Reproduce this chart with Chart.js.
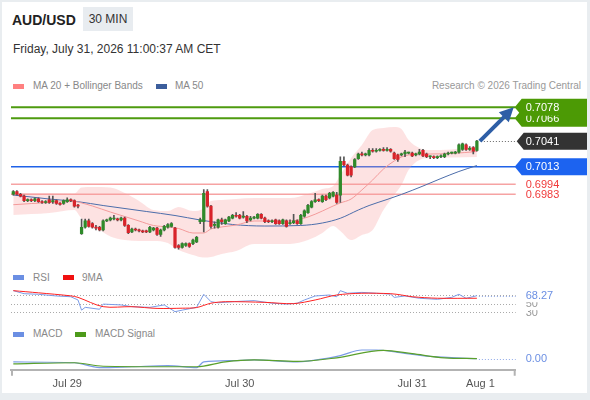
<!DOCTYPE html>
<html>
<head>
<meta charset="utf-8">
<script src="https://cdn.jsdelivr.net/npm/chart.js@4.4.1/dist/chart.umd.min.js"></script>
<style>
  html, body { margin: 0; padding: 0; }
  body { width: 590px; height: 400px; background: #e9edf0; position: relative; overflow: hidden;
         font-family: "Liberation Sans", Arial, sans-serif; }
  #card { position: absolute; left: 2px; top: 2px; width: 585px; height: 391px; background: #fff; }
  canvas { position: absolute; left: 0; top: 0; }
  .t { position: absolute; white-space: nowrap; }
  .lg { position: absolute; font-size: 10px; line-height: 12px; color: #888; white-space: nowrap; }
  .sw { position: absolute; width: 11px; height: 5px; }
</style>
</head>
<body>
<div id="card"></div>
<div class="t" style="left:12px;top:12px;font-weight:bold;font-size:14px;line-height:16px;color:#222;">AUD/USD</div>
<div class="t" style="left:83px;top:7px;width:50px;height:24px;background:#e8ecf0;text-align:center;font-size:12px;line-height:24px;color:#333;">30 MIN</div>
<div class="t" style="left:13px;top:42px;font-size:12px;line-height:14px;color:#333;">Friday, July 31, 2026 11:00:37 AM CET</div>

<div class="sw" style="left:13px;top:84px;background:#ff8080;"></div>
<div class="lg" style="left:33px;top:80px;">MA 20 + Bollinger Bands</div>
<div class="sw" style="left:156px;top:84px;background:#3c5e9c;"></div>
<div class="lg" style="left:175px;top:80px;">MA 50</div>
<div class="lg" style="right:9px;top:80px;color:#999;">Research © 2026 Trading Central</div>

<div class="sw" style="left:13px;top:275px;background:#6b8fe3;"></div>
<div class="lg" style="left:33px;top:272px;">RSI</div>
<div class="sw" style="left:63px;top:275px;background:#f01010;"></div>
<div class="lg" style="left:82px;top:272px;">9MA</div>

<div class="sw" style="left:13px;top:332px;background:#6b8fe3;"></div>
<div class="lg" style="left:33px;top:328px;">MACD</div>
<div class="sw" style="left:75px;top:332px;background:#4d9a1a;"></div>
<div class="lg" style="left:95px;top:328px;">MACD Signal</div>

<canvas id="price" width="590" height="400"></canvas>
<canvas id="rsi" width="590" height="400"></canvas>
<canvas id="macd" width="590" height="400"></canvas>

<script>
// x axis: candle index, one per 30 minutes
const tickIndex = [15, 63, 111, 130];
const tickLabels = ["Jul 29", "Jul 30", "Jul 31", "Aug 1"];

const opens = [
  0.6983, 0.6986, 0.6983, 0.6981, 0.6976, 0.6977, 0.6976, 0.6978, 0.6975, 0.6974,
  0.6977, 0.6975, 0.6976, 0.6973, 0.6973, 0.6975, 0.6977, 0.6976, 0.6971, 0.6940,
  0.6947, 0.6954, 0.6951, 0.6947, 0.6947, 0.6944, 0.6954, 0.6955, 0.6956, 0.6956,
  0.6955, 0.6957, 0.6949, 0.6942, 0.6945, 0.6944, 0.6943, 0.6943, 0.6942, 0.6944,
  0.6946, 0.6939, 0.6944, 0.6947, 0.6948, 0.6946, 0.6927, 0.6925, 0.6927, 0.6929,
  0.6929, 0.6931, 0.6953, 0.6953, 0.6986, 0.6970, 0.6949, 0.6947, 0.6955, 0.6951,
  0.6954, 0.6957, 0.6960, 0.6960, 0.6958, 0.6959, 0.6955, 0.6957, 0.6957, 0.6961,
  0.6957, 0.6954, 0.6953, 0.6955, 0.6954, 0.6951, 0.6954, 0.6951, 0.6952, 0.6954,
  0.6951, 0.6959, 0.6963, 0.6969, 0.6975, 0.6977, 0.6975, 0.6981, 0.6979, 0.6981,
  0.6982, 0.6982, 0.7019, 0.7015, 0.7013, 0.7013, 0.7022, 0.7027, 0.7026, 0.7026,
  0.7031, 0.7030, 0.7031, 0.7032, 0.7031, 0.7032, 0.7028, 0.7026, 0.7026, 0.7027,
  0.7028, 0.7028, 0.7026, 0.7027, 0.7031, 0.7027, 0.7024, 0.7024, 0.7023, 0.7024,
  0.7024, 0.7027, 0.7028, 0.7028, 0.7029, 0.7032, 0.7037, 0.7032, 0.7034, 0.7031
];
const highs = [
  0.6987, 0.6987, 0.6984, 0.6982, 0.6978, 0.6978, 0.6979, 0.6979, 0.6976, 0.6976,
  0.6981, 0.6981, 0.6977, 0.6974, 0.6977, 0.6979, 0.6978, 0.6977, 0.6972, 0.6956,
  0.6956, 0.6956, 0.6952, 0.6949, 0.6948, 0.6955, 0.6956, 0.6958, 0.6960, 0.6957,
  0.6958, 0.6958, 0.6950, 0.6946, 0.6946, 0.6945, 0.6944, 0.6944, 0.6948, 0.6947,
  0.6947, 0.6945, 0.6949, 0.6951, 0.6952, 0.6947, 0.6928, 0.6930, 0.6930, 0.6930,
  0.6934, 0.6937, 0.6957, 0.6988, 0.6988, 0.6971, 0.6953, 0.6956, 0.6957, 0.6956,
  0.6959, 0.6961, 0.6963, 0.6961, 0.6964, 0.6960, 0.6959, 0.6959, 0.6962, 0.6962,
  0.6958, 0.6955, 0.6955, 0.6956, 0.6955, 0.6956, 0.6955, 0.6955, 0.6961, 0.6955,
  0.6961, 0.6966, 0.6972, 0.6976, 0.6984, 0.6978, 0.6982, 0.6982, 0.6985, 0.6986,
  0.6985, 0.7024, 0.7024, 0.7016, 0.7014, 0.7022, 0.7028, 0.7029, 0.7028, 0.7033,
  0.7033, 0.7033, 0.7033, 0.7034, 0.7034, 0.7033, 0.7029, 0.7027, 0.7028, 0.7031,
  0.7029, 0.7029, 0.7028, 0.7032, 0.7032, 0.7028, 0.7025, 0.7025, 0.7025, 0.7026,
  0.7028, 0.7029, 0.7029, 0.7030, 0.7038, 0.7039, 0.7038, 0.7035, 0.7035, 0.7042
];
const lows = [
  0.6982, 0.6982, 0.6980, 0.6975, 0.6975, 0.6975, 0.6975, 0.6974, 0.6973, 0.6973,
  0.6973, 0.6973, 0.6972, 0.6971, 0.6972, 0.6974, 0.6975, 0.6969, 0.6968, 0.6939,
  0.6946, 0.6947, 0.6946, 0.6944, 0.6943, 0.6943, 0.6953, 0.6954, 0.6955, 0.6954,
  0.6954, 0.6948, 0.6940, 0.6941, 0.6943, 0.6942, 0.6941, 0.6941, 0.6941, 0.6943,
  0.6938, 0.6937, 0.6943, 0.6946, 0.6947, 0.6924, 0.6923, 0.6924, 0.6926, 0.6925,
  0.6928, 0.6930, 0.6951, 0.6942, 0.6969, 0.6946, 0.6946, 0.6946, 0.6950, 0.6950,
  0.6953, 0.6956, 0.6958, 0.6956, 0.6957, 0.6952, 0.6954, 0.6956, 0.6956, 0.6956,
  0.6952, 0.6952, 0.6952, 0.6950, 0.6950, 0.6950, 0.6947, 0.6950, 0.6951, 0.6950,
  0.6950, 0.6958, 0.6962, 0.6968, 0.6974, 0.6975, 0.6974, 0.6976, 0.6978, 0.6980,
  0.6973, 0.6974, 0.7014, 0.7003, 0.7002, 0.7012, 0.7021, 0.7025, 0.7025, 0.7025,
  0.7029, 0.7029, 0.7030, 0.7030, 0.7030, 0.7029, 0.7021, 0.7019, 0.7025, 0.7024,
  0.7027, 0.7024, 0.7025, 0.7026, 0.7024, 0.7023, 0.7022, 0.7022, 0.7022, 0.7023,
  0.7023, 0.7026, 0.7027, 0.7027, 0.7028, 0.7031, 0.7031, 0.7031, 0.7027, 0.7030
];
const closes = [
  0.6986, 0.6983, 0.6981, 0.6976, 0.6977, 0.6976, 0.6978, 0.6975, 0.6974, 0.6975,
  0.6974, 0.6976, 0.6973, 0.6972, 0.6976, 0.6977, 0.6976, 0.6970, 0.6970, 0.6947,
  0.6954, 0.6948, 0.6947, 0.6946, 0.6944, 0.6954, 0.6955, 0.6957, 0.6956, 0.6955,
  0.6957, 0.6949, 0.6941, 0.6945, 0.6944, 0.6943, 0.6942, 0.6942, 0.6947, 0.6946,
  0.6939, 0.6944, 0.6948, 0.6950, 0.6951, 0.6925, 0.6925, 0.6929, 0.6929, 0.6926,
  0.6933, 0.6936, 0.6955, 0.6984, 0.6970, 0.6948, 0.6950, 0.6955, 0.6953, 0.6955,
  0.6958, 0.6960, 0.6959, 0.6957, 0.6959, 0.6954, 0.6957, 0.6958, 0.6961, 0.6957,
  0.6953, 0.6953, 0.6954, 0.6951, 0.6951, 0.6955, 0.6948, 0.6952, 0.6954, 0.6951,
  0.6960, 0.6965, 0.6971, 0.6975, 0.6977, 0.6976, 0.6981, 0.6977, 0.6984, 0.6985,
  0.6974, 0.7019, 0.7015, 0.7004, 0.7004, 0.7021, 0.7027, 0.7026, 0.7027, 0.7031,
  0.7030, 0.7031, 0.7032, 0.7031, 0.7032, 0.7030, 0.7022, 0.7021, 0.7027, 0.7029,
  0.7028, 0.7025, 0.7027, 0.7029, 0.7025, 0.7024, 0.7024, 0.7023, 0.7024, 0.7025,
  0.7027, 0.7028, 0.7028, 0.7029, 0.7037, 0.7038, 0.7032, 0.7033, 0.7030, 0.7041
];

// MA 20 + Bollinger bands, read at these candle indexes
const bandIndex = [0, 10, 17, 19, 22, 27, 31, 35, 39, 43, 46, 50, 53, 55, 58, 62, 67,
  72, 77, 82, 86, 89, 91, 94, 97, 100, 103, 106, 108, 110, 113, 116, 122, 129];
const ma20 = [0.69716, 0.69740, 0.69751, 0.69735, 0.69702, 0.69636, 0.69587, 0.69538,
  0.69489, 0.69473, 0.69456, 0.69407, 0.69407, 0.69451, 0.69473, 0.69494, 0.69538,
  0.69538, 0.69538, 0.69582, 0.69647, 0.69702, 0.69735, 0.69778, 0.69877, 0.69986,
  0.70106, 0.70194, 0.70237, 0.70259, 0.70270, 0.70270, 0.70276, 0.70297];
const bandUpper = [0.69844, 0.69844, 0.69839, 0.69904, 0.69910, 0.69904, 0.69844, 0.69757,
  0.69658, 0.69647, 0.69691, 0.69647, 0.69675, 0.69757, 0.69768, 0.69778, 0.69789,
  0.69789, 0.69789, 0.69833, 0.69888, 0.69920, 0.70041, 0.70226, 0.70368, 0.70532,
  0.70554, 0.70565, 0.70543, 0.70423, 0.70336, 0.70314, 0.70319, 0.70357];
const bandLower = [0.69604, 0.69625, 0.69658, 0.69565, 0.69494, 0.69369, 0.69330, 0.69320,
  0.69320, 0.69298, 0.69221, 0.69167, 0.69139, 0.69145, 0.69178, 0.69210, 0.69287,
  0.69287, 0.69287, 0.69330, 0.69407, 0.69483, 0.69429, 0.69330, 0.69385, 0.69440,
  0.69658, 0.69822, 0.69931, 0.70095, 0.70205, 0.70226, 0.70232, 0.70237];

const ma50Index = [0, 10, 18, 25, 37, 45, 52, 61, 70, 80, 86, 91, 96, 99, 104, 108, 114, 119, 124, 129];
const ma50 = [0.69822, 0.69778, 0.69749, 0.69707, 0.69642, 0.69598, 0.69549, 0.69500,
  0.69483, 0.69489, 0.69516, 0.69568, 0.69658, 0.69707, 0.69773, 0.69828, 0.69920,
  0.70002, 0.70079, 0.70144];

// support / resistance levels (green, green, blue, red, red)
const levels = [0.7078, 0.7066, 0.7013, 0.6994, 0.6983];

const rsiIndex = [0, 3, 7, 12, 16, 18, 19, 20, 24, 25, 30, 33, 38, 42, 45, 47, 51, 53, 55,
  57, 61, 67, 72, 76, 79, 81, 84, 88, 90, 91, 93, 97, 101, 105, 106, 109, 113, 118,
  122, 124, 126, 129];
const rsiValues = [80, 73, 71.6, 67.7, 66, 58.5, 35, 41.5, 37, 49, 47, 43, 41.5, 47, 31.5,
  35, 41.5, 71.6, 54.5, 52, 54.5, 57, 51, 49, 51, 58.5, 67.7, 70, 66, 80, 74, 76, 74,
  72, 64.5, 67.7, 62.4, 60, 64.5, 71.6, 62.4, 68.27];
const rsiMaIndex = [0, 7, 16, 18, 25, 33, 40, 47, 51, 55, 59, 70, 78, 84, 90, 97, 105, 108, 111, 118, 129];
const rsiMa = [80, 75, 68, 64.5, 43, 43, 39, 39.5, 41, 51, 54.5, 53, 50, 58.5, 70, 74, 73, 70, 66, 62.5, 62.5];
const rsiGuides = [70, 50, 30];

const macdIndex = [0, 17, 24, 33, 43, 51, 53, 61, 67, 79, 88, 91, 97, 101, 107, 116, 129];
const macdValues = [0.00007, 0.00002, -0.00027, -0.00022, -0.00015, -0.00027, 0.00007,
  0.00015, 0.00019, 0.00007, 0.00032, 0.00045, 0.00079, 0.00079, 0.00065, 0.0004, 0.00027];
const signalIndex = [0, 17, 25, 43, 51, 59, 67, 79, 90, 103, 111, 120, 129];
const signalValues = [-0.00005, 0.00002, -0.00019, -0.00022, -0.00022, 0.00007, 0.00019,
  0.0001, 0.00032, 0.00077, 0.00057, 0.00032, 0.00027];

// ---- layout
const X_MIN = -0.64, X_MAX = 139.8;
const PAD_L = 11, PAD_R = 74.3;
const FONT = '"Liberation Sans", Arial, sans-serif';
Chart.defaults.font.family = FONT;

function pts(idx, vals) {
  return idx.map((x, i) => ({ x: x, y: vals[i] }));
}

function xScale(show) {
  return {
    type: "linear",
    min: X_MIN,
    max: X_MAX,
    offset: false,
    display: show,
    grid: { display: false, drawTicks: false },
    border: { display: show, color: "#b3b3b3", width: 2 },
    afterBuildTicks: function (s) {
      s.ticks = tickIndex.map(function (v) { return { value: v }; });
    },
    ticks: {
      autoSkip: false,
      maxRotation: 0,
      color: "#555",
      font: { size: 11 },
      padding: 7.5,
      callback: function (v) {
        const k = tickIndex.indexOf(v);
        return k < 0 ? "" : tickLabels[k];
      },
    },
  };
}

function baseOptions(top, bottom, yMin, yMax, showX) {
  return {
    responsive: false,
    animation: false,
    events: [],
    layout: { padding: { left: PAD_L, right: PAD_R, top: top, bottom: bottom } },
    plugins: { legend: { display: false }, tooltip: { enabled: false } },
    scales: {
      x: xScale(showX),
      y: { display: false, min: yMin, max: yMax },
    },
  };
}

function dotted(ctx, x1, x2, y, color) {
  ctx.save();
  ctx.strokeStyle = color;
  ctx.lineWidth = 1;
  ctx.setLineDash([1, 2]);
  ctx.beginPath();
  ctx.moveTo(x1, Math.round(y) + 0.5);
  ctx.lineTo(x2, Math.round(y) + 0.5);
  ctx.stroke();
  ctx.restore();
}

function tag(ctx, x, y, color) {
  const h = 17;
  ctx.fillStyle = color;
  ctx.beginPath();
  ctx.moveTo(x, y);
  ctx.lineTo(x + 7, y - h / 2);
  ctx.lineTo(587, y - h / 2);
  ctx.lineTo(587, y + h / 2);
  ctx.lineTo(x + 7, y + h / 2);
  ctx.closePath();
  ctx.fill();
}

// ---- price panel marks
const levelColors = ["#4e9b0f", "#4e9b0f", "#1f62e8", "#f6a3a3", "#f6a3a3"];
const levelTags = ["#4c9a05", "#4c9a05", "#1c63f0", null, null];
const priceMarks = {
  id: "priceMarks",
  beforeDatasetsDraw(chart) {
    const { ctx, chartArea: a, scales: { y } } = chart;
    ctx.save();
    levels.forEach(function (v, i) {
      ctx.strokeStyle = levelColors[i];
      ctx.lineWidth = i < 2 ? 2 : 1.5;
      const py = y.getPixelForValue(v);
      ctx.beginPath();
      ctx.moveTo(a.left, py);
      ctx.lineTo(a.right, py);
      ctx.stroke();
    });
    ctx.restore();
  },
  afterDatasetsDraw(chart) {
    const { ctx, chartArea: a, scales: { x, y } } = chart;
    const last = closes.length - 1;
    const lastY = y.getPixelForValue(closes[last]);
    ctx.save();
    dotted(ctx, x.getPixelForValue(last) + 4, a.right, lastY, "#666");

    // arrow towards the first target
    const x0 = x.getPixelForValue(last) + 3, y0 = lastY;
    const x1 = a.right - 2, y1 = y.getPixelForValue(levels[0]);
    const ang = Math.atan2(y1 - y0, x1 - x0);
    const head = 14;
    ctx.strokeStyle = "#2e5ea6";
    ctx.fillStyle = "#2e5ea6";
    ctx.lineWidth = 4;
    ctx.beginPath();
    ctx.moveTo(x0, y0);
    ctx.lineTo(x1 - Math.cos(ang) * (head - 2), y1 - Math.sin(ang) * (head - 2));
    ctx.stroke();
    ctx.beginPath();
    ctx.moveTo(x1, y1);
    ctx.lineTo(x1 - Math.cos(ang) * head + Math.sin(ang) * 7, y1 - Math.sin(ang) * head - Math.cos(ang) * 7);
    ctx.lineTo(x1 - Math.cos(ang) * head - Math.sin(ang) * 7, y1 - Math.sin(ang) * head + Math.cos(ang) * 7);
    ctx.closePath();
    ctx.fill();

    ctx.font = "11px " + FONT;
    ctx.textBaseline = "middle";
    const tx = a.right + 10;
    // draw bottom labels first so upper tags overlap them
    for (let i = levels.length - 1; i >= 0; i--) {
      const py = y.getPixelForValue(levels[i]);
      if (levelTags[i]) {
        tag(ctx, a.right - 1, py, levelTags[i]);
        ctx.fillStyle = "#fff";
      } else {
        ctx.fillStyle = "#f03a3a";
      }
      ctx.fillText(levels[i].toFixed(4), tx, py + 0.5);
      if (i === 2) {
        tag(ctx, a.right + 1, lastY, "#333");
        ctx.fillStyle = "#fff";
        ctx.fillText(closes[last].toFixed(4), tx, lastY + 0.5);
      }
    }
    ctx.restore();
  },
};

const bodyColors = closes.map(function (c, i) { return c >= opens[i] ? "#2f8a2a" : "#d8232a"; });

new Chart(document.getElementById("price"), {
  type: "bar",
  data: {
    datasets: [
      {
        type: "bar",
        data: closes.map(function (c, i) { return { x: i, y: [opens[i], c] }; }),
        backgroundColor: bodyColors,
        barThickness: 2.6,
        minBarLength: 1,
        grouped: false,
      },
      {
        type: "bar",
        data: closes.map(function (c, i) { return { x: i, y: [lows[i], highs[i]] }; }),
        backgroundColor: "#555",
        barThickness: 1,
        grouped: false,
      },
      {
        type: "line",
        data: pts(bandIndex, ma20),
        borderColor: "#f39a9a",
        borderWidth: 1,
        pointRadius: 0,
        cubicInterpolationMode: "monotone",
      },
      {
        type: "line",
        data: pts(ma50Index, ma50),
        borderColor: "#4c6daa",
        borderWidth: 1,
        pointRadius: 0,
        cubicInterpolationMode: "monotone",
      },
      {
        type: "line",
        data: pts(bandIndex, bandUpper),
        borderColor: "transparent",
        borderWidth: 0,
        pointRadius: 0,
        fill: "+1",
        backgroundColor: "rgba(248,160,160,0.3)",
        cubicInterpolationMode: "monotone",
      },
      {
        type: "line",
        data: pts(bandIndex, bandLower),
        borderColor: "transparent",
        borderWidth: 0,
        pointRadius: 0,
        cubicInterpolationMode: "monotone",
      },
    ],
  },
  options: baseOptions(100, 138, 0.6909, 0.7086, false),
  plugins: [priceMarks],
});

// ---- RSI panel
const rsiMarks = {
  id: "rsiMarks",
  beforeDatasetsDraw(chart) {
    const { ctx, chartArea: a, scales: { y } } = chart;
    rsiGuides.forEach(function (v) { dotted(ctx, a.left, a.right, y.getPixelForValue(v), "#aaa"); });
  },
  afterDatasetsDraw(chart) {
    const { ctx, chartArea: a, scales: { x, y } } = chart;
    const n = rsiValues.length - 1;
    const lastY = y.getPixelForValue(rsiValues[n]);
    dotted(ctx, x.getPixelForValue(rsiIndex[n]) + 2, a.right, lastY, "#8fa8e8");
    ctx.save();
    ctx.font = "11px " + FONT;
    ctx.textBaseline = "middle";
    const labels = [[30, "#999"], [50, "#999"], [rsiValues[n], "#6b8fe3"]];
    labels.forEach(function (l, k) {
      const py = y.getPixelForValue(l[0]);
      ctx.fillStyle = "#fff";
      ctx.fillRect(a.right + 6, py - 6.5, 40, 13);
      ctx.fillStyle = l[1];
      ctx.fillText(k < 2 ? String(l[0]) : l[0].toFixed(2), a.right + 10, py + 0.5);
    });
    ctx.restore();
  },
};

new Chart(document.getElementById("rsi"), {
  type: "line",
  data: {
    datasets: [
      { data: pts(rsiMaIndex, rsiMa), borderColor: "#f22", borderWidth: 1, pointRadius: 0, tension: 0.3 },
      { data: pts(rsiIndex, rsiValues), borderColor: "#7b9be6", borderWidth: 1, pointRadius: 0 },
    ],
  },
  options: baseOptions(282, 74.7, 0, 100, false),
  plugins: [rsiMarks],
});

// ---- MACD panel
const macdMarks = {
  id: "macdMarks",
  afterDatasetsDraw(chart) {
    const { ctx, chartArea: a, scales: { x, y } } = chart;
    const n = macdValues.length - 1;
    const lastY = y.getPixelForValue(macdValues[n]);
    dotted(ctx, x.getPixelForValue(macdIndex[n]) + 2, a.right, lastY, "#8fa8e8");
    ctx.save();
    ctx.font = "11px " + FONT;
    ctx.textBaseline = "middle";
    ctx.fillStyle = "#6b8fe3";
    ctx.fillText(macdValues[n].toFixed(2), a.right + 10, lastY + 0.5);
    // end ticks of the time axis
    ctx.strokeStyle = "#b3b3b3";
    ctx.lineWidth = 2;
    ctx.beginPath();
    ctx.moveTo(a.left + 1, a.bottom);
    ctx.lineTo(a.left + 1, a.bottom + 6);
    ctx.moveTo(a.right - 1, a.bottom);
    ctx.lineTo(a.right - 1, a.bottom + 6);
    ctx.stroke();
    ctx.restore();
  },
};

new Chart(document.getElementById("macd"), {
  type: "line",
  data: {
    datasets: [
      { data: pts(signalIndex, signalValues), borderColor: "#5aa02c", borderWidth: 1.2, pointRadius: 0, cubicInterpolationMode: "monotone" },
      { data: pts(macdIndex, macdValues), borderColor: "#7b9be6", borderWidth: 1.2, pointRadius: 0, cubicInterpolationMode: "monotone" },
    ],
  },
  options: baseOptions(344, 4.5, -0.0004, 0.00115, true),
  plugins: [macdMarks],
});
</script>
</body>
</html>
